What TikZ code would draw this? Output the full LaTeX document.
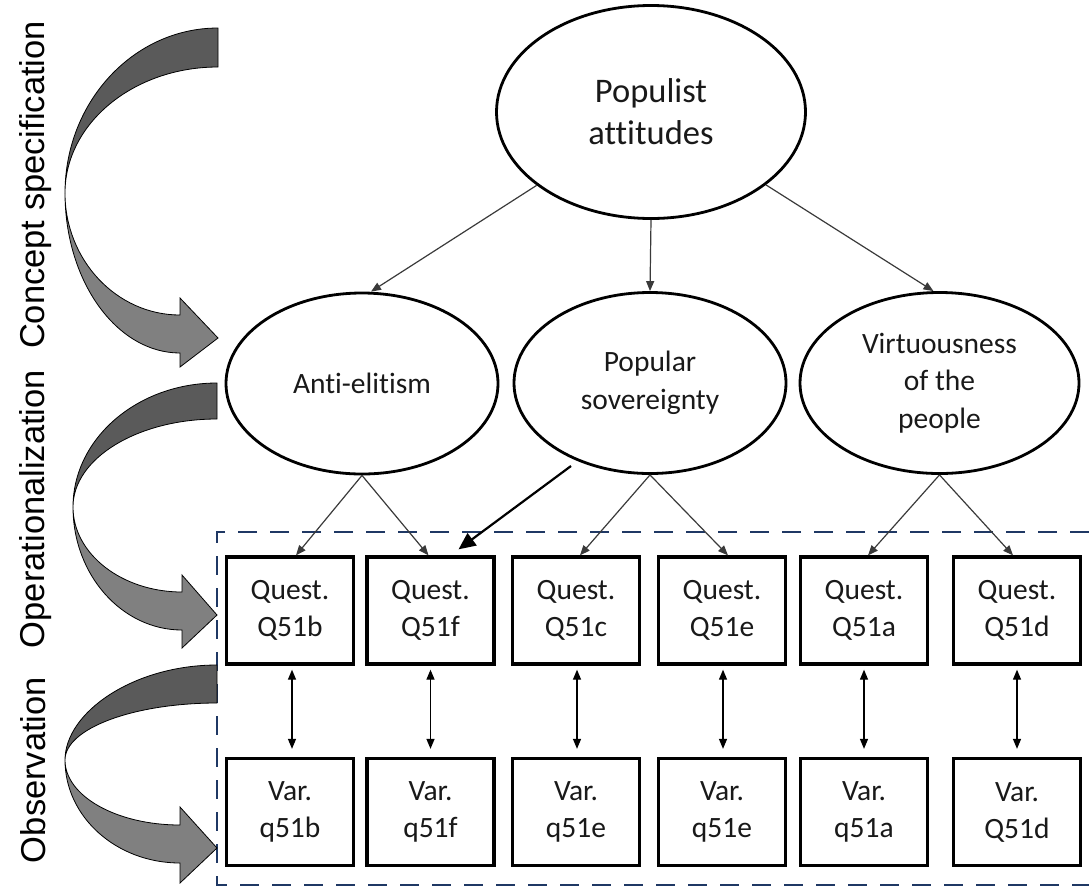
\documentclass[tikz,border=0pt]{standalone}
\usepackage{fontspec}
\setmainfont[Ligatures=CommonOff]{Carlito}
\newfontfamily\sidefont{Liberation Sans}
\usetikzlibrary{shapes.geometric,arrows.meta}
\definecolor{dashnavy}{HTML}{1F3864}
\definecolor{banddark}{HTML}{5A5A5A}
\definecolor{bandlight}{HTML}{808080}
\definecolor{linkgray}{HTML}{3A3A3A}
\begin{document}
\begin{tikzpicture}[x=1pt,y=-1pt,
  concept/.style={ellipse,draw,line width=2.8pt,inner sep=0pt,align=center,text=black!90,
    minimum width=272pt,minimum height=181pt,font=\fontsize{29.5}{37.5}\selectfont},
  topconcept/.style={concept,minimum width=309pt,minimum height=213pt,font=\fontsize{34.5}{42}\selectfont},
  itembox/.style={rectangle,draw,line width=3.3pt,inner sep=0pt,align=center,text=black!90,
    minimum width=127pt,minimum height=107pt,font=\fontsize{29.5}{37}\selectfont},
  sidelabel/.style={rotate=90,anchor=base,font=\sidefont\fontsize{34.5}{40}\selectfont},
  link/.style={draw=linkgray,line width=1.2pt,-{Triangle[length=10pt,width=8pt]}},
  boldlink/.style={draw=black,line width=2.2pt,-{Triangle[length=17pt,width=15pt]}},
  twoway/.style={draw=black,line width=1.3pt,{Triangle[length=10pt,width=8pt]}-{Triangle[length=10pt,width=8pt]},
    shorten <=4pt,shorten >=8pt},
  darkband/.style={fill=banddark,draw=black,line width=0.8pt},
  lightband/.style={fill=bandlight,draw=black,line width=0.8pt},
  dashframe/.style={draw=dashnavy,line width=2.8pt,dash pattern=on 19pt off 13pt}
]
\useasboundingbox (0,0) rectangle (1089,887);

% dashed frame
\draw[dashframe] (1089,532) -- (217,532) -- (217,885) -- (1089,885);

% curved block arrows
\path[darkband] (218,28) .. controls (133.5,28) and (65,102) .. (65,193) .. controls (65,123.5) and (133.5,67) .. (218,67) -- cycle;
\path[lightband] (65,193) .. controls (65,281) and (116.5,353) .. (180,353) -- (180,367) -- (218,338) -- (180,298) -- (180,315) .. controls (116.5,315) and (65,260) .. (65,193) -- cycle;

\path[darkband] (217,383) .. controls (137.5,383) and (73,438.5) .. (73,507) .. controls (73,458.4) and (137.5,419) .. (217,419) -- cycle;
\path[lightband] (73,507) .. controls (73,575) and (122,630) .. (182,630) -- (182,648) -- (217,615) -- (182,575) -- (182,592) .. controls (122,592) and (73,554) .. (73,507) -- cycle;

\path[darkband] (217,665) .. controls (133.5,665) and (65,712.4) .. (65,760) .. controls (65,728.5) and (133.5,703) .. (217,703) -- cycle;
\path[lightband] (65,760) .. controls (65,817) and (116.5,863) .. (180,863) -- (180,883) -- (217,848) -- (180,807) -- (180,825) .. controls (116.5,825) and (65,796) .. (65,760) -- cycle;

% side labels
\node[sidelabel] (lspec) at (44,185) {Concept specification};
\node[sidelabel] (loper) at (44,509) {Operationalization};
\node[sidelabel] (lobs) at (45,770) {Observation};

% concepts
\node[topconcept] (pop) at (651,112) {Populist\\attitudes};
\node[concept] (anti) at (362,383.5) {Anti-elitism};
\node[concept] (sov) at (650,383) {Popular\\sovereignty};
\node[concept,minimum width=279pt] (virt) at (939.5,383) {Virtuousness\\of the\\people};

% question boxes
\node[itembox] (q1) at (290,610.5) {Quest.\\Q51b};
\node[itembox] (q2) at (430.5,610.5) {Quest.\\Q51f};
\node[itembox] (q3) at (576,610.5) {Quest.\\Q51c};
\node[itembox] (q4) at (722,610.5) {Quest.\\Q51e};
\node[itembox] (q5) at (864,610.5) {Quest.\\Q51a};
\node[itembox] (q6) at (1017,610.5) {Quest.\\Q51d};

% variable boxes
\node[itembox] (v1) at (290,812) {Var.\\q51b};
\node[itembox] (v2) at (430.5,812) {Var.\\q51f};
\node[itembox] (v3) at (576,812) {Var.\\q51e};
\node[itembox] (v4) at (722,812) {Var.\\q51e};
\node[itembox] (v5) at (864,812) {Var.\\q51a};
\node[itembox] (v6) at (1017,812) {Var.\\Q51d};

% level 1 -> 2
\draw[link] (pop) -- ([xshift=9pt]anti.north);
\draw[link] (pop.south) -- (sov.north);
\draw[link] (pop) -- ([xshift=-6pt]virt.north);

% level 2 -> 3
\draw[link] (anti.south) -- ([xshift=6pt]q1.north);
\draw[link] (anti.south) -- ([xshift=-2pt]q2.north);
\draw[link] (sov.south) -- ([xshift=4pt]q3.north);
\draw[link] (sov.south) -- ([xshift=6pt]q4.north);
\draw[link] (virt.south) -- ([xshift=4pt]q5.north);
\draw[link] (virt.south) -- ([xshift=-4pt]q6.north);

% extra bold arrow
\coordinate (boldstart) at (571,466);
\draw[boldlink] (boldstart) -- ([xshift=28pt,yshift=6pt]q2.north);

% question <-> variable
\draw[twoway] ([xshift=2pt]q1.south) -- ([xshift=2pt]v1.north);
\draw[twoway] (q2.south) -- (v2.north);
\draw[twoway] ([xshift=1pt]q3.south) -- ([xshift=1pt]v3.north);
\draw[twoway] ([xshift=1pt]q4.south) -- ([xshift=1pt]v4.north);
\draw[twoway] (q5.south) -- (v5.north);
\draw[twoway] (q6.south) -- (v6.north);
\end{tikzpicture}
\end{document}
